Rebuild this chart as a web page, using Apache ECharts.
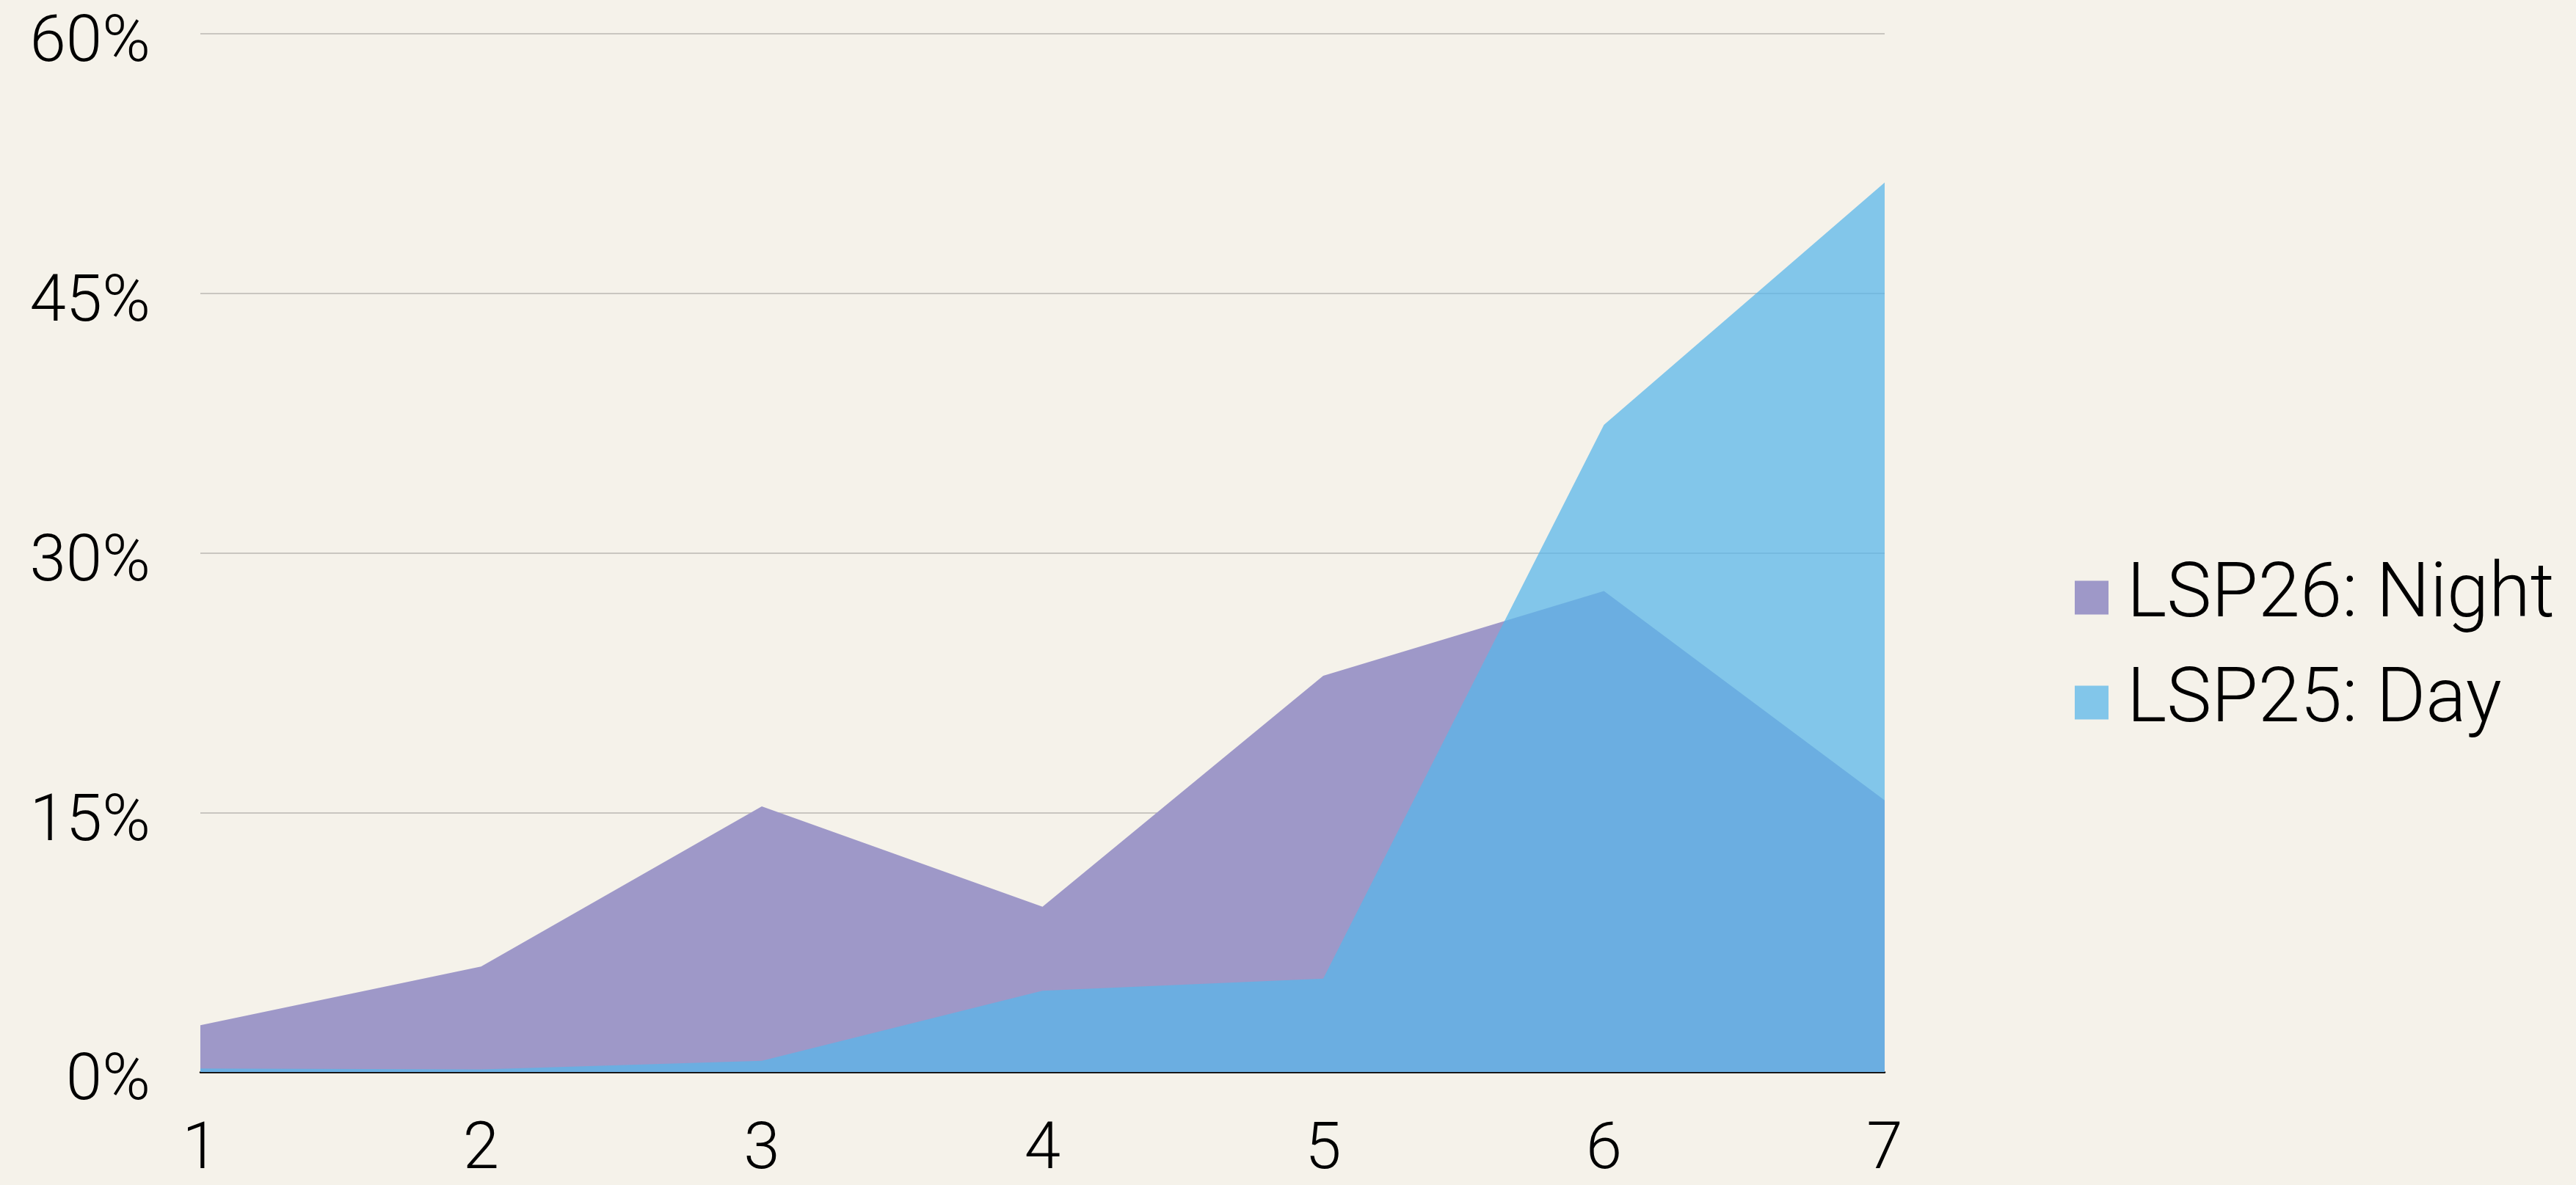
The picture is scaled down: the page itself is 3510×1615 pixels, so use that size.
<!DOCTYPE html>
<html>
<head>
<meta charset="utf-8">
<script src="https://cdn.jsdelivr.net/npm/echarts@6/dist/echarts.min.js"></script>
<style>
  html, body { margin: 0; padding: 0; background: #F5F2EA; }
  #chart { width: 3510px; height: 1615px; }
</style>
</head>
<body>
<div id="chart"></div>
<script>
// categories along the x axis
const categories = ['1', '2', '3', '4', '5', '6', '7'];

// values in percent
const nightValues = [2.7, 6.1, 15.35, 9.55, 22.9, 27.8, 15.7];
const dayValues = [0.2, 0.15, 0.65, 4.7, 5.4, 37.4, 51.4];

const seriesNames = ['LSP26: Night', 'LSP25: Day'];

const nightColor = '#9E98C8';
const dayColor = 'rgba(89, 182, 234, 0.74)';

const chart = echarts.init(document.getElementById('chart'));

const font = 'Roboto';

const option = {
    backgroundColor: '#F5F2EA',
    animation: false,
    grid: {
        left: 273,
        right: 942,
        top: 46,
        bottom: 154
    },
    legend: {
        orient: 'vertical',
        left: 2822,
        top: 758,
        itemWidth: 46,
        itemHeight: 46,
        itemGap: 40,
        icon: 'rect',
        data: seriesNames,
        textStyle: {
            fontFamily: font,
            fontWeight: 300,
            fontSize: 103,
            color: '#000',
            padding: [0, 0, 0, 20]
        }
    },
    xAxis: {
        type: 'category',
        boundaryGap: false,
        data: categories,
        axisTick: { show: false },
        axisLine: { lineStyle: { color: '#000', width: 2.5 } },
        axisLabel: {
            margin: 64,
            fontFamily: font,
            fontWeight: 300,
            fontSize: 89,
            color: '#000'
        },
        splitLine: { show: false }
    },
    yAxis: {
        type: 'value',
        min: 0,
        max: 60,
        interval: 15,
        axisLine: { show: false },
        axisTick: { show: false },
        axisLabel: {
            margin: 68,
            formatter: '{a|{value}%}',
            rich: {
                a: {
                    fontFamily: font,
                    fontWeight: 300,
                    fontSize: 89,
                    color: '#000',
                    padding: [30, 0, 0, 0]
                }
            }
        },
        splitLine: { lineStyle: { color: '#C9C6C0', width: 2 } }
    },
    series: [
        {
            name: seriesNames[0],
            type: 'line',
            data: nightValues,
            showSymbol: false,
            lineStyle: { width: 0 },
            itemStyle: { color: nightColor },
            areaStyle: { color: nightColor, opacity: 1 }
        },
        {
            name: seriesNames[1],
            type: 'line',
            data: dayValues,
            showSymbol: false,
            lineStyle: { width: 0 },
            itemStyle: { color: dayColor },
            areaStyle: { color: dayColor, opacity: 1 }
        }
    ]
};

chart.setOption(option);
</script>
</body>
</html>
